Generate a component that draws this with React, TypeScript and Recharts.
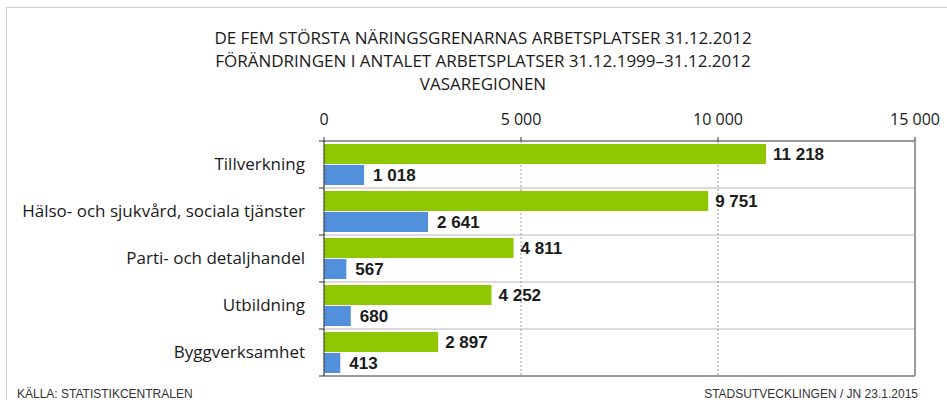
import React from 'react';
import { BarChart, Bar, XAxis, YAxis, CartesianGrid, LabelList } from 'recharts';

const categories = [
  'Tillverkning',
  'Hälso- och sjukvård, sociala tjänster',
  'Parti- och detaljhandel',
  'Utbildning',
  'Byggverksamhet',
];
const jobs2012 = [11218, 9751, 4811, 4252, 2897];
const change1999to2012 = [1018, 2641, 567, 680, 413];
const xTicks = [0, 5000, 10000, 15000];
const titleLines = [
  'DE FEM STÖRSTA NÄRINGSGRENARNAS ARBETSPLATSER 31.12.2012',
  'FÖRÄNDRINGEN I ANTALET ARBETSPLATSER 31.12.1999–31.12.2012',
  'VASAREGIONEN',
];
const sourceText = 'KÄLLA: STATISTIKCENTRALEN';
const creditText = 'STADSUTVECKLINGEN / JN 23.1.2015';

const data = categories.map((name, i) => ({
  name,
  jobs: jobs2012[i],
  change: change1999to2012[i],
}));

const fmt = (v: number) => String(v).replace(/\B(?=(\d{3})+(?!\d))/g, ' ');

const GREEN = '#8fc800';
const BLUE = '#5290dc';
const FONT = '"Open Sans", Lato, sans-serif';
const LABEL_STYLE = { fontFamily: 'Liberation Sans, Arial, sans-serif', fontSize: 17, fontWeight: 700, fill: '#1a1a1a' };

const CatTick = (props: any) => {
  const { x, y, payload } = props;
  const off = payload && payload.offset ? payload.offset : 23.5;
  const ax = x + 17;
  return (
    <g>
      <text x={x - 2} y={y - 1} textAnchor="end" dominantBaseline="central" fontFamily={FONT} fontSize={17} fill="#1a1a1a">
        {payload.value}
      </text>
      <line x1={ax - 5} x2={ax} y1={y - off} y2={y - off} stroke="#333" />
      {payload.index === categories.length - 1 ? (
        <line x1={ax - 5} x2={ax} y1={y + off} y2={y + off} stroke="#333" />
      ) : null}
    </g>
  );
};

const gridGen = ({ offset }: any) => {
  const n = categories.length;
  const arr: number[] = [];
  for (let k = 1; k < n; k++) arr.push(offset.top + (k * offset.height) / n);
  return arr;
};

export default function App() {
  return (
    <div style={{ position: 'absolute', left: 0, top: 0, width: 947, height: 400, overflow: 'hidden', background: '#fff' }}>
      <div style={{ position: 'absolute', left: 6, top: 7, width: 945, height: 400, border: '1px solid #cfcfcf', boxSizing: 'border-box' }} />
      {titleLines.map((t, i) => (
        <div
          key={i}
          style={{
            position: 'absolute',
            left: 0,
            width: 966,
            top: 38 + i * 23 - 12,
            height: 24,
            lineHeight: '24px',
            textAlign: 'center',
            fontFamily: FONT,
            fontSize: 17,
            color: '#1a1a1a',
            whiteSpace: 'nowrap',
          }}
        >
          {t}
        </div>
      ))}
      <div style={{ position: 'absolute', left: 0, top: 0 }}>
        <BarChart
          width={947}
          height={400}
          data={data}
          layout="vertical"
          margin={{ top: 111, right: 29, bottom: 23, left: 0 }}
          barSize={20}
          barGap={1}
        >
          <CartesianGrid horizontal={true} vertical={false} stroke="#b8b8b8" horizontalCoordinatesGenerator={gridGen} />
          <CartesianGrid horizontal={false} vertical={true} stroke="#9a9a9a" strokeDasharray="2 2" />
          <XAxis
            type="number"
            orientation="top"
            domain={[0, 15000]}
            ticks={xTicks}
            tickFormatter={fmt}
            height={30}
            tickSize={4}
            tickMargin={12}
            axisLine={{ stroke: '#333' }}
            tickLine={{ stroke: '#333' }}
            tick={{ fontFamily: FONT, fontSize: 16, fill: '#1a1a1a' }}
            interval={0}
          />
          <XAxis
            xAxisId="b"
            type="number"
            orientation="bottom"
            domain={[0, 15000]}
            ticks={xTicks}
            height={1}
            tick={false}
            tickLine={false}
            axisLine={{ stroke: '#333' }}
          />
          <YAxis
            type="category"
            dataKey="name"
            width={324}
            tickLine={false}
            tickMargin={11}
            axisLine={{ stroke: '#333' }}
            tick={<CatTick />}
            interval={0}
          />
          <YAxis
            yAxisId="r"
            type="category"
            dataKey="name"
            orientation="right"
            width={3}
            tick={false}
            tickLine={false}
            axisLine={{ stroke: '#9a9a9a', strokeWidth: 2 }}
          />
          <Bar dataKey="jobs" fill={GREEN} isAnimationActive={false}>
            <LabelList dataKey="jobs" position="right" offset={7} formatter={(v: any) => fmt(Number(v))} style={LABEL_STYLE} />
          </Bar>
          <Bar dataKey="change" fill={BLUE} isAnimationActive={false}>
            <LabelList dataKey="change" position="right" offset={9} formatter={(v: any) => fmt(Number(v))} style={LABEL_STYLE} />
          </Bar>
        </BarChart>
      </div>
      <div style={{ position: 'absolute', left: 17, top: 387, lineHeight: '14px', fontFamily: '"Liberation Sans", Arial, sans-serif', fontSize: 12, color: '#333', whiteSpace: 'nowrap' }}>
        {sourceText}
      </div>
      <div style={{ position: 'absolute', right: 29, top: 387, lineHeight: '14px', fontFamily: '"Liberation Sans", Arial, sans-serif', fontSize: 12, color: '#333', whiteSpace: 'nowrap' }}>
        {creditText}
      </div>
    </div>
  );
}
